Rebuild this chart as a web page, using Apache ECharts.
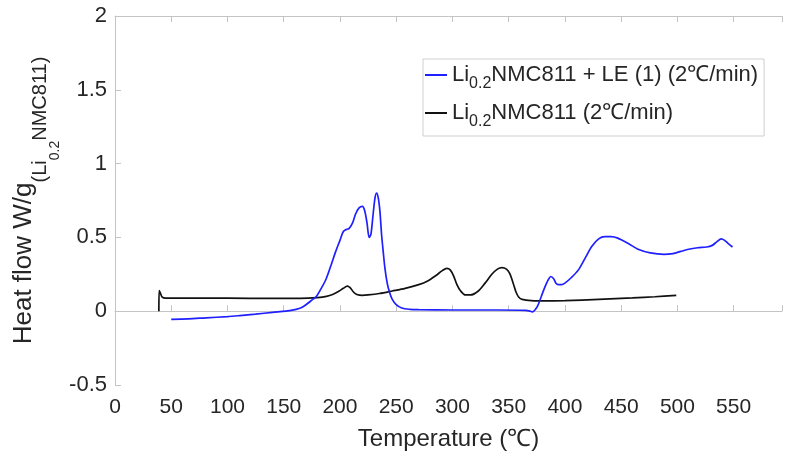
<!DOCTYPE html>
<html>
<head>
<meta charset="utf-8">
<script src="https://cdn.jsdelivr.net/npm/echarts@6/dist/echarts.min.js"></script>
<style>html,body{margin:0;padding:0;background:#fff}#c{width:785px;height:456px}</style>
</head>
<body>
<div id="c"></div>
<script>
var seriesNames = ['Li0.2NMC811 + LE (1) (2℃/min)', 'Li0.2NMC811 (2℃/min)'];
var xTicks = [0, 50, 100, 150, 200, 250, 300, 350, 400, 450, 500, 550];
var yTicks = [-0.5, 0, 0.5, 1, 1.5, 2];

var blueLE = [[50,-0.055],[65,-0.052],[81,-0.045],[100,-0.037],[111,-0.03],[125,-0.02],[140,-0.008],[152,0.0],[161,0.012],[166,0.025],[170,0.045],[175,0.075],[179,0.10],[183,0.15],[187.5,0.215],[192,0.31],[196,0.40],[200,0.48],[203,0.54],[206,0.555],[208,0.56],[211,0.595],[214,0.66],[217,0.70],[220,0.71],[222,0.68],[224,0.6],[226,0.5],[227.5,0.52],[229,0.62],[231,0.76],[232.5,0.80],[234,0.77],[235.5,0.68],[237,0.52],[238.5,0.40],[240,0.29],[242,0.19],[244,0.13],[246.5,0.08],[250,0.045],[255,0.022],[262,0.013],[270,0.01],[300,0.008],[340,0.008],[365,0.005],[369,0.0],[371,-0.005],[373.5,0.01],[376,0.04],[379,0.10],[382,0.16],[385,0.21],[387.5,0.235],[390,0.22],[392,0.19],[394,0.18],[397,0.18],[400,0.19],[406,0.23],[412,0.28],[418,0.36],[424,0.44],[430,0.49],[435.5,0.505],[441,0.505],[447,0.495],[456,0.46],[465,0.42],[476,0.395],[488,0.385],[496,0.39],[503,0.405],[510,0.42],[518,0.43],[526,0.435],[531,0.446],[535,0.47],[539,0.49],[542,0.48],[545,0.46],[549,0.435]];

var blackRef = [[39,0],[39.3,0.14],[40.5,0.12],[42,0.095],[45,0.088],[60,0.088],[100,0.088],[140,0.087],[165,0.087],[180,0.092],[188,0.1],[194,0.115],[199,0.135],[203,0.155],[206.5,0.17],[209,0.16],[212,0.13],[215,0.113],[220,0.107],[225,0.11],[235,0.12],[246.5,0.137],[258,0.155],[270,0.18],[278,0.205],[285,0.24],[291,0.275],[295,0.29],[298,0.28],[301,0.24],[304,0.18],[307,0.14],[311.5,0.11],[316,0.11],[323,0.137],[329,0.19],[335,0.25],[340,0.285],[344,0.295],[348,0.285],[351,0.255],[354,0.19],[356.5,0.13],[359,0.095],[362,0.08],[370,0.072],[385,0.07],[400,0.071],[430,0.08],[460,0.09],[480,0.098],[499,0.107]];

var FONT = 'Liberation Sans';
var TXT = '#262626';
var AX = '#c4c4c4';
var X_MAX = 593;

var chart = echarts.init(document.getElementById('c'), null, {renderer: 'canvas'});

function legendFmt(name) {
  if (name === seriesNames[0]) return '{n|Li}{s|0.2}{n|NMC811 + LE (1) (2℃/min)}';
  return '{n|Li}{s|0.2}{n|NMC811 (2℃/min)}';
}
function xLabel(v) {
  return xTicks.indexOf(v) >= 0 ? String(v) : '';
}

var xBase = {
  type: 'value', min: xTicks[0], max: X_MAX, interval: 50,
  splitLine: {show: false},
  axisLine: {show: true, lineStyle: {color: AX, width: 1}},
  axisTick: {show: true, inside: true, length: 6, lineStyle: {color: AX}}
};

chart.setOption({
  animation: false,
  textStyle: {fontFamily: FONT},
  grid: {left: 115, top: 16, right: 0, height: 370, containLabel: false},
  legend: {
    orient: 'vertical', left: 423, top: 59,
    data: seriesNames,
    backgroundColor: '#fff',
    borderColor: '#cfcfcf', borderWidth: 1,
    padding: [5, 6, 6, 2],
    itemGap: 10,
    itemWidth: 22, itemHeight: 2,
    icon: 'rect',
    formatter: legendFmt,
    textStyle: {
      color: TXT, fontFamily: FONT,
      rich: {
        n: {fontSize: 22, fontFamily: FONT, color: TXT, lineHeight: 34, verticalAlign: 'middle'},
        s: {fontSize: 16, fontFamily: FONT, color: TXT, verticalAlign: 'bottom'}
      }
    }
  },
  xAxis: [
    Object.assign({}, xBase, {
      position: 'bottom',
      name: 'Temperature (℃)', nameLocation: 'middle', nameGap: 42,
      nameTextStyle: {fontSize: 24, color: TXT, fontFamily: FONT},
      axisLabel: {show: true, color: TXT, fontSize: 21, fontFamily: FONT, margin: 12, formatter: xLabel}
    }),
    Object.assign({}, xBase, {position: 'top', axisLabel: {show: false}})
  ],
  yAxis: {
    type: 'value', min: yTicks[0], max: yTicks[yTicks.length - 1], interval: 0.5,
    splitLine: {show: false},
    axisLine: {show: true, lineStyle: {color: AX, width: 1}},
    axisTick: {show: true, inside: true, length: 6, lineStyle: {color: AX}},
    axisLabel: {color: TXT, fontSize: 22, fontFamily: FONT, margin: 8},
    name: '{m|Heat flow W/g}{s|(Li}{ss|0.2}{s|NMC811)}',
    nameLocation: 'middle', nameRotate: 90, nameGap: 53, nameMoveOverlap: false,
    nameTextStyle: {
      color: TXT, fontFamily: FONT,
      rich: {
        m: {fontSize: 26, fontFamily: FONT, color: TXT, lineHeight: 76, verticalAlign: 'middle'},
        s: {fontSize: 20, fontFamily: FONT, color: TXT, verticalAlign: 'bottom', padding: [0, 0, 12, 0]},
        ss: {fontSize: 14, fontFamily: FONT, color: TXT, verticalAlign: 'bottom'}
      }
    }
  },
  series: [
    {name: seriesNames[0], type: 'line', data: blueLE, showSymbol: false, symbol: 'none', smooth: 0.3,
      lineStyle: {color: '#1f1fff', width: 1.7}, itemStyle: {color: '#1f1fff'}, z: 3},
    {name: seriesNames[1], type: 'line', data: blackRef, showSymbol: false, symbol: 'none', smooth: 0.3,
      lineStyle: {color: '#111', width: 1.7}, itemStyle: {color: '#111'}, z: 2}
  ]
});
</script>
</body>
</html>
